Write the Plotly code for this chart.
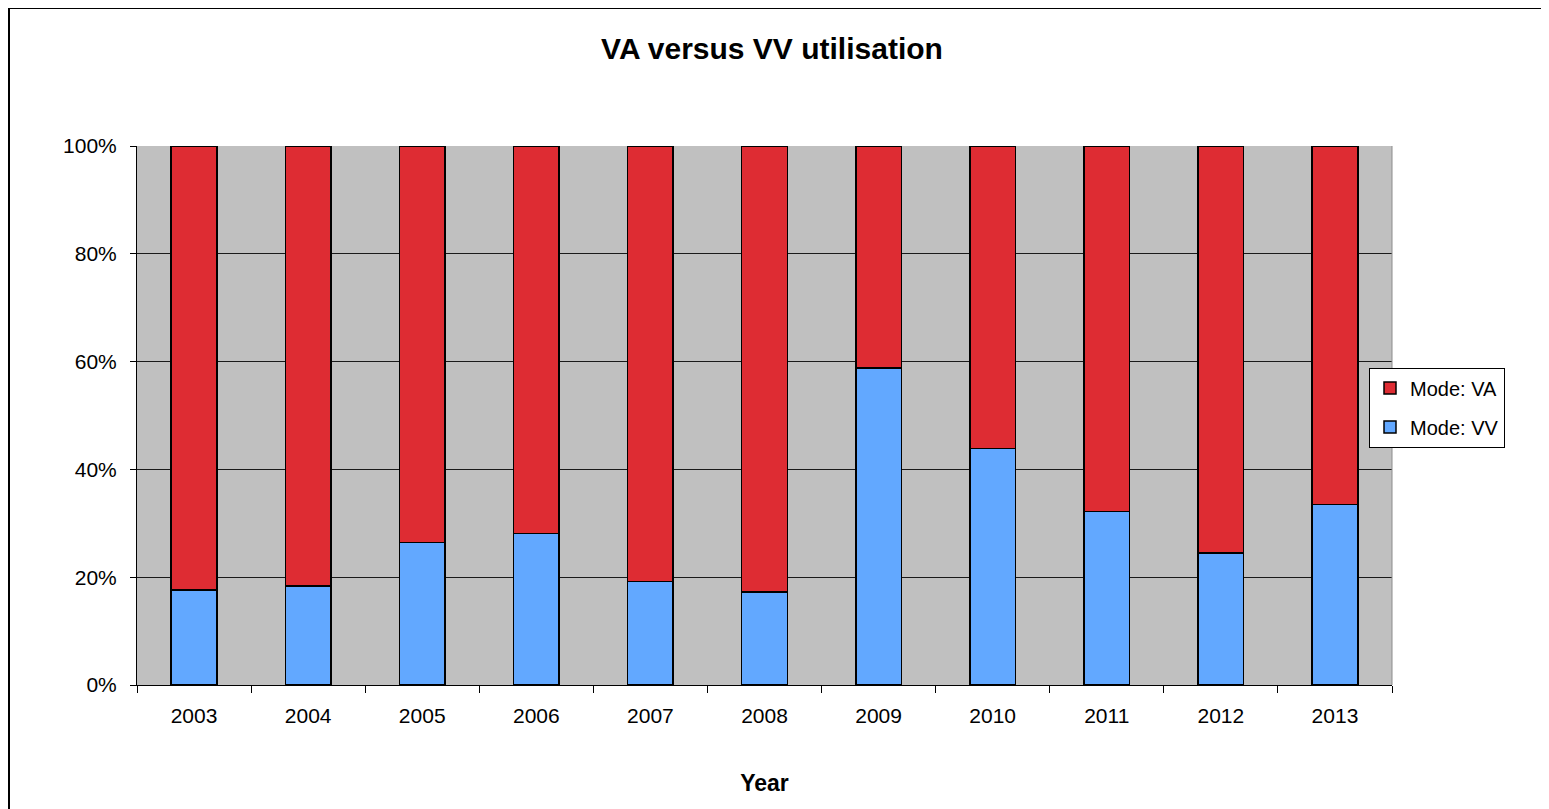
import plotly.graph_objects as go

years = ["2003", "2004", "2005", "2006", "2007", "2008", "2009", "2010", "2011", "2012", "2013"]
vv = [17.6, 18.4, 26.4, 28.1, 19.2, 17.3, 58.8, 43.9, 32.2, 24.5, 33.5]
va = [82.4, 81.6, 73.6, 71.9, 80.8, 82.7, 41.2, 56.1, 67.8, 75.5, 66.5]
y_ticks = [0, 20, 40, 60, 80, 100]
y_tick_labels = ["0%", "20%", "40%", "60%", "80%", "100%"]

FONT = "Liberation Sans, Arial, sans-serif"

fig = go.Figure()
fig.add_trace(go.Bar(x=years, y=vv, name="Mode: VV", legendgroup="vv", legendrank=2,
                     marker=dict(color="#62A8FF", line=dict(color="#000000", width=1.5))))
fig.add_trace(go.Bar(x=years, y=va, name="Mode: VA", legendgroup="va", legendrank=1,
                     marker=dict(color="#DE2C33", line=dict(color="#000000", width=1.5))))

# page body has an 8px margin; figure coordinates = screenshot - 8
OFF = 8
W, H = 1549, 809
L, R, T, B = 137 - OFF, 1392 - OFF, 146 - OFF, 685 - OFF
pw, ph = R - L, B - T

fig.update_layout(
    width=W, height=H,
    margin=dict(l=L, r=W - R, t=T, b=H - B, autoexpand=False),
    barmode="stack", bargap=0.6,
    paper_bgcolor="#FFFFFF", plot_bgcolor="#C0C0C0",
    font=dict(family=FONT, size=21, color="#000000"),
    title=dict(text="<b>VA versus VV utilisation</b>", x=(772 - 137) / 1255, xref="paper",
               xanchor="center",
               y=1 - (48 - OFF) / H, yanchor="middle", font=dict(size=30)),
    legend=dict(x=(1369 - OFF - L) / pw, y=(B - (407.5 - OFF)) / ph,
                xanchor="left", yanchor="middle",
                traceorder="grouped", tracegroupgap=10,
                bgcolor="#FFFFFF", bordercolor="#000000",
                borderwidth=1, font=dict(size=20), itemwidth=30),
    xaxis=dict(tickson="boundaries", ticks="outside", ticklen=7, tickcolor="#000000",
               showline=True, linecolor="#000000", linewidth=1, showgrid=False,
               ticklabelstandoff=12,
               title=dict(text="<b>Year</b>", standoff=48, font=dict(size=23))),
    yaxis=dict(range=[0, 100], tickvals=y_ticks, ticktext=y_tick_labels,
               ticks="outside", ticklen=6, tickcolor="#000000",
               showline=True, linecolor="#000000", linewidth=1,
               showgrid=True, gridcolor="#1A1A1A", gridwidth=1, zeroline=False,
               ticklabelstandoff=9),
    showlegend=True,
)

# right edge of plot area (gray line)
fig.add_shape(type="line", xref="paper", yref="paper", x0=1, x1=1, y0=0, y1=1,
              line=dict(color="#8C8C8C", width=1))
# outer chart border (top & left visible)
bx = (1 - L) / pw
by = (B - 0) / ph
fig.add_shape(type="line", xref="paper", yref="paper", x0=bx, x1=1.3, y0=by, y1=by,
              line=dict(color="#000000", width=2))
fig.add_shape(type="line", xref="paper", yref="paper", x0=bx, x1=bx, y0=-0.3, y1=by,
              line=dict(color="#000000", width=2))

fig.write_html("out.html")
